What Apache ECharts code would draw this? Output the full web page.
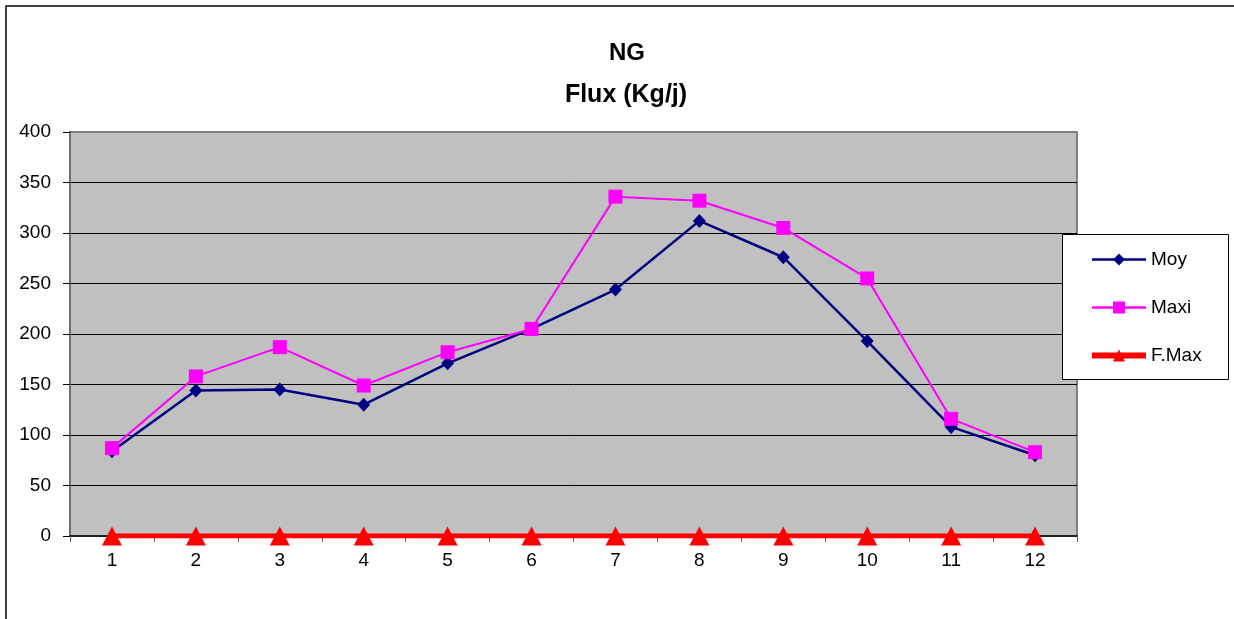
<!DOCTYPE html>
<html>
<head>
<meta charset="utf-8">
<title>NG - Flux (Kg/j)</title>
<script src="https://cdn.jsdelivr.net/npm/echarts@6/dist/echarts.min.js"></script>
<style>
  html, body { margin: 0; padding: 0; background: #ffffff; }
  #chart { width: 1234px; height: 619px; }
</style>
</head>
<body>
<div id="chart"></div>
<script>
// Months 1..12
const months = ['1', '2', '3', '4', '5', '6', '7', '8', '9', '10', '11', '12'];
// Daily flux (Kg/j)
const moy  = [84, 144, 145, 130, 171, 205, 244, 312, 276, 193, 108, 80];
const maxi = [87, 158, 187, 149, 182, 205, 336, 332, 305, 255, 116, 83];
const fMax = [0, 0, 0, 0, 0, 0, 0, 0, 0, 0, 0, 0];
const yTicks = { min: 0, max: 400, step: 50 };

const FONT = 'Arial, "Liberation Sans", sans-serif';
const C_MOY = '#000080', C_MAXI = '#ff00ff', C_FMAX = '#ff0000';

const chart = echarts.init(document.getElementById('chart'), null, { renderer: 'canvas' });

chart.setOption({
  backgroundColor: '#ffffff',
  animation: false,
  title: [
    {
      text: 'NG', left: 622, top: 36, textAlign: 'center',
      textStyle: { fontFamily: FONT, fontSize: 24, fontWeight: 'bold', color: '#000' }
    },
    {
      text: 'Flux (Kg/j)', left: 621, top: 78, textAlign: 'center',
      textStyle: { fontFamily: FONT, fontSize: 25, fontWeight: 'bold', color: '#000' }
    }
  ],
  graphic: [
    {
      type: 'rect', z: 100, silent: true,
      shape: { x: 6, y: 6, width: 1240, height: 625 },
      style: { fill: null, stroke: '#000', lineWidth: 1.5 }
    },
    {
      type: 'rect', z: 5, silent: true,
      shape: { x: 1062.5, y: 234.5, width: 166, height: 145 },
      style: { fill: '#ffffff', stroke: '#000', lineWidth: 1 }
    }
  ],
  legend: {
    orient: 'vertical',
    left: 1089,
    top: 249.5,
    z: 10,
    padding: 0,
    itemWidth: 54,
    itemHeight: 15,
    itemGap: 28,
    textStyle: { fontFamily: FONT, fontSize: 19, color: '#000', lineHeight: 20 },
    data: [
      { name: 'Moy', lineStyle: { color: C_MOY, width: 2.5 }, itemStyle: { color: C_MOY } },
      { name: 'Maxi', lineStyle: { color: C_MAXI, width: 2.5 }, itemStyle: { color: C_MAXI } },
      { name: 'F.Max', lineStyle: { color: C_FMAX, width: 6 }, itemStyle: { color: C_FMAX } }
    ]
  },
  grid: {
    left: 70, right: 157, top: 132, bottom: 83,
    show: true,
    backgroundColor: '#c0c0c0',
    borderColor: '#808080',
    borderWidth: 2
  },
  xAxis: {
    type: 'category',
    data: months,
    boundaryGap: true,
    axisLine: { show: true, lineStyle: { color: '#000', width: 1.5 } },
    axisTick: { show: true, alignWithLabel: false, length: 6, lineStyle: { color: '#606060', width: 1 } },
    axisLabel: { fontFamily: FONT, fontSize: 19, color: '#000', margin: 15 },
    splitLine: { show: false }
  },
  yAxis: {
    type: 'value',
    min: yTicks.min,
    max: yTicks.max,
    interval: yTicks.step,
    axisLine: { show: true, lineStyle: { color: '#707070', width: 2 } },
    axisTick: { show: true, length: 7, lineStyle: { color: '#000', width: 1 } },
    axisLabel: { fontFamily: FONT, fontSize: 19, color: '#000', margin: 19 },
    splitLine: { show: true, showMinLine: false, showMaxLine: false, lineStyle: { color: '#000', width: 1 } }
  },
  series: [
    {
      name: 'Moy', type: 'line', data: moy,
      symbol: 'diamond', symbolSize: [13, 14],
      lineStyle: { color: C_MOY, width: 2.5 },
      itemStyle: { color: C_MOY },
      z: 3
    },
    {
      name: 'Maxi', type: 'line', data: maxi,
      symbol: 'rect', symbolSize: 14,
      lineStyle: { color: C_MAXI, width: 2 },
      itemStyle: { color: C_MAXI },
      z: 4
    },
    {
      name: 'F.Max', type: 'line', data: fMax,
      symbol: 'triangle', symbolSize: [20, 19],
      lineStyle: { color: C_FMAX, width: 5 },
      itemStyle: { color: C_FMAX },
      z: 5
    }
  ]
});
</script>
</body>
</html>
